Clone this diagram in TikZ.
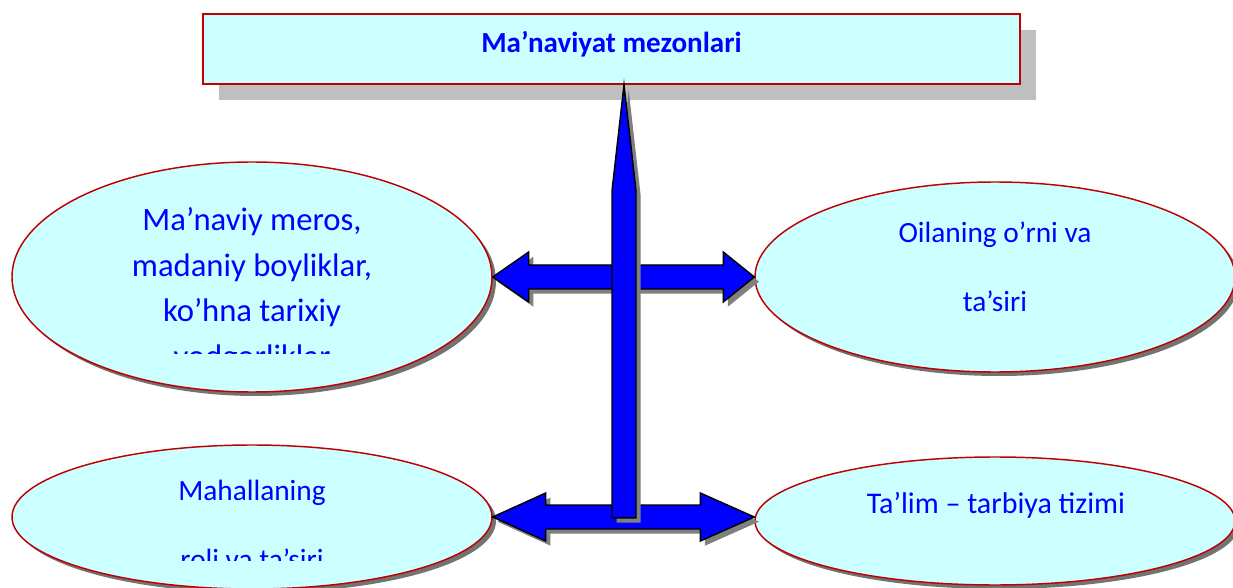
\documentclass[tikz,border=0pt]{standalone}
\usepackage{fontspec}
\setmainfont{Carlito}
\usetikzlibrary{shapes.geometric,shadows,calc}
\definecolor{fon}{HTML}{CCFFFF}
\definecolor{qizil}{HTML}{C00000}
\definecolor{kok}{HTML}{0000FF}
\begin{document}
\begin{tikzpicture}[x=0.75pt,y=-0.75pt,
	oval/.style={ellipse,draw=qizil,line width=1.1pt,fill=fon,inner sep=0pt,minimum width=360pt,
		drop shadow={shadow xshift=3pt,shadow yshift=-3pt,fill=black!55,opacity=1}},
	matn/.style={text=kok,align=center,font=\fontsize{22}{33.75}\selectfont},
	strelka/.style={draw=black,line width=1.1pt,fill=kok,
		drop shadow={shadow xshift=3.5pt,shadow yshift=-3.5pt,fill=black!50,opacity=1}}]
	\useasboundingbox (0,0) rectangle (1233,588);
	\node[draw=qizil,line width=1.4pt,fill=fon,minimum width=612.75pt,minimum height=52.5pt,
		drop shadow={shadow xshift=12pt,shadow yshift=-12pt,fill=black!25,opacity=1},
		text=kok,font=\fontsize{21.8}{26}\selectfont\bfseries,text height=16pt,text depth=10pt] (mezon) at (611.5,49) {Ma’naviyat mezonlari};
	\node[oval,minimum height=172.5pt] (meros) at (252,277) {};
	\node[oval,minimum height=142.5pt] (oila) at (995,277) {};
	\node[oval,minimum height=108pt] (mahalla) at (252,517) {};
	\node[oval,minimum height=96pt] (talim) at (995,521) {};
	% matnlar
	\begin{scope}
		\clip (0,0) rectangle (1233,353);
		\node[matn,font=\fontsize{24.5}{34.5}\selectfont,anchor=base] (merosmatn) at (252,368) {Ma’naviy meros,\\madaniy boyliklar,\\ko’hna tarixiy\\yodgorliklar};
	\end{scope}
	\node[matn,anchor=base] (oilamatn) at (995,312) {Oilaning o’rni va\\[18pt]ta’siri};
	\begin{scope}
		\clip (0,0) rectangle (1233,560);
		\node[matn,anchor=base] (mahallamatn) at (252,569) {Mahallaning\\[18pt]roli va ta’siri};
	\end{scope}
	\node[matn,font=\fontsize{22.5}{33.75}\selectfont,anchor=base] (talimmatn) at (996,513) {Ta’lim – tarbiya tizimi};
	% strelkalar
	\coordinate (oilauch) at (meros.east -| oila.west);
	\coordinate (talimuch) at (mahalla.east -| talim.west);
	\coordinate (uch) at ($(mezon.south)+(12.5,0)$);
	\draw[strelka] (meros.east) -- ++(36,-25) -- ++(0,13) -- ($(oilauch)+(-31,-12)$) -- ++(0,-13)
		-- (oilauch) -- ++(-31,25) -- ++(0,-13) -- ($(meros.east)+(36,12)$) -- ++(0,13) -- cycle;
	\draw[strelka] (mahalla.east) -- ++(53,-24) -- ++(0,12) -- ($(talimuch)+(-54,-12)$) -- ++(0,-12)
		-- (talimuch) -- ++(-54,24) -- ++(0,-12) -- ($(mahalla.east)+(53,12)$) -- ++(0,12) -- cycle;
	\draw[strelka] (uch) -- ++(12,106) -- ++(0,327) -- ++(-24,0) -- ++(0,-327) -- cycle;
\end{tikzpicture}
\end{document}
